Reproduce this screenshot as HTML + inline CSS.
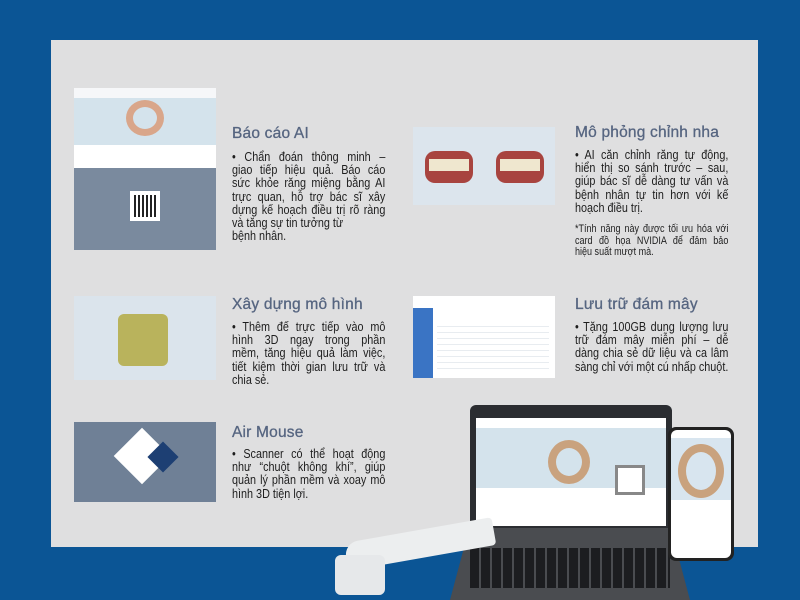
<!DOCTYPE html>
<html><head><meta charset="utf-8"><style>
*{margin:0;padding:0;box-sizing:border-box}
body{width:800px;height:600px;background:#0b5595;position:relative;overflow:hidden;font-family:"Liberation Sans",sans-serif}
.panel{position:absolute;left:51px;top:40px;width:707px;height:507px;background:#dfdfe0}
.img{position:absolute;background:#dde6ee;overflow:hidden}
h2{position:absolute;font-size:15.5px;font-weight:normal;color:#566580;letter-spacing:.2px;-webkit-text-stroke:.3px #566580}
.t{position:absolute;font-size:13.2px;line-height:13.2px;color:#1e1e1e;width:187px;transform:scaleX(0.82);transform-origin:0 0}
.t span{display:block;text-align:justify;text-align-last:justify;white-space:nowrap}
.t span.l{text-align-last:left}
.n{font-size:11px;line-height:11.5px;margin-top:10px}
.ab{position:absolute}
</style></head><body>
<div class="panel"></div>

<div class="img" style="left:74px;top:88px;width:142px;height:162px;background:#fff">
 <div class="ab" style="left:0;top:0;width:142px;height:10px;background:#f6f7f9"></div>
 <div class="ab" style="left:0;top:10px;width:142px;height:47px;background:#d4e3ec"></div>
 <div class="ab" style="left:52px;top:12px;width:38px;height:36px;border:7px solid #d9a68a;border-radius:50%"></div>
 <div class="ab" style="left:0;top:80px;width:142px;height:82px;background:#7a8a9e"></div>
 <div class="ab" style="left:56px;top:103px;width:30px;height:30px;background:#fff"></div>
 <div class="ab" style="left:60px;top:107px;width:22px;height:22px;background:repeating-linear-gradient(90deg,#222 0 2px,#fff 2px 4px)"></div>
</div>
<h2 style="left:232px;top:125px">Báo cáo AI</h2>
<div class="t" style="left:232px;top:150px"><span>• Chẩn đoán thông minh –</span><span>giao tiếp hiệu quả. Báo cáo</span><span>sức khỏe răng miệng bằng AI</span><span>trực quan, hỗ trợ bác sĩ xây</span><span>dựng kế hoạch điều trị rõ ràng</span><span class="l">và tăng sự tin tưởng từ</span><span class="l">bệnh nhân.</span></div>

<div class="img" style="left:413px;top:127px;width:142px;height:78px;background:#dce5ed">
 <div class="ab" style="left:12px;top:24px;width:48px;height:32px;background:#a8443f;border-radius:10px"></div>
 <div class="ab" style="left:16px;top:32px;width:40px;height:12px;background:#efe7cf"></div>
 <div class="ab" style="left:83px;top:24px;width:48px;height:32px;background:#a8443f;border-radius:10px"></div>
 <div class="ab" style="left:87px;top:32px;width:40px;height:12px;background:#efe7cf"></div>
</div>
<h2 style="left:575px;top:124px">Mô phỏng chỉnh nha</h2>
<div class="t" style="left:575px;top:148px"><span>• AI căn chỉnh răng tự động,</span><span>hiển thị so sánh trước – sau,</span><span>giúp bác sĩ dễ dàng tư vấn và</span><span>bệnh nhân tự tin hơn với kế</span><span class="l">hoạch điều trị.</span><div class="n"><span>*Tính năng này được tối ưu hóa với</span><span>card đồ họa NVIDIA để đảm bảo</span><span class="l">hiệu suất mượt mà.</span></div></div>

<div class="img" style="left:74px;top:296px;width:142px;height:84px;background:#dbe4ec">
 <div class="ab" style="left:44px;top:18px;width:50px;height:52px;background:#b9b35c;border-radius:6px"></div>
</div>
<h2 style="left:232px;top:296px">Xây dựng mô hình</h2>
<div class="t" style="left:232px;top:320px"><span>• Thêm đế trực tiếp vào mô</span><span>hình 3D ngay trong phần</span><span>mềm, tăng hiệu quả làm việc,</span><span>tiết kiệm thời gian lưu trữ và</span><span class="l">chia sẻ.</span></div>

<div class="img" style="left:413px;top:296px;width:142px;height:82px;background:#fff">
 <div class="ab" style="left:0;top:12px;width:20px;height:70px;background:#3a74c4"></div>
 <div class="ab" style="left:24px;top:30px;width:112px;height:48px;background:repeating-linear-gradient(180deg,#e8ecf0 0 1px,#fff 1px 6px)"></div>
</div>
<h2 style="left:575px;top:296px">Lưu trữ đám mây</h2>
<div class="t" style="left:575px;top:320px"><span>• Tặng 100GB dung lượng lưu</span><span>trữ đám mây miễn phí – dễ</span><span>dàng chia sẻ dữ liệu và ca lâm</span><span>sàng chỉ với một cú nhấp chuột.</span></div>

<div class="img" style="left:74px;top:422px;width:142px;height:80px;background:#6f8096">
 <div class="ab" style="left:48px;top:14px;width:40px;height:40px;background:#fff;transform:rotate(45deg)"></div>
 <div class="ab" style="left:78px;top:24px;width:22px;height:22px;background:#1d3f73;transform:rotate(45deg)"></div>
</div>
<h2 style="left:232px;top:424px">Air Mouse</h2>
<div class="t" style="left:232px;top:447px"><span>• Scanner có thể hoạt động</span><span>như “chuột không khí”, giúp</span><span>quản lý phần mềm và xoay mô</span><span class="l">hình 3D tiện lợi.</span></div>

<div class="ab" style="left:470px;top:405px;width:202px;height:130px;background:#2b2d31;border-radius:6px 6px 0 0"></div>
<div class="ab" style="left:476px;top:418px;width:190px;height:108px;background:#fff"></div>
<div class="ab" style="left:476px;top:428px;width:190px;height:60px;background:#d4e3ec"></div>
<div class="ab" style="left:548px;top:440px;width:42px;height:44px;border:8px solid #c9a27e;border-radius:50%"></div>
<div class="ab" style="left:615px;top:465px;width:30px;height:30px;background:#fff;border:3px solid #888"></div>
<div class="ab" style="left:450px;top:528px;width:240px;height:72px;background:#4a4c50;clip-path:polygon(8% 0,92% 0,100% 100%,0 100%)"></div>
<div class="ab" style="left:470px;top:548px;width:200px;height:40px;background:repeating-linear-gradient(90deg,#1c1d20 0 9px,#4a4c50 9px 11px)"></div>
<div class="ab" style="left:668px;top:427px;width:66px;height:134px;background:#222;border-radius:8px"></div>
<div class="ab" style="left:671px;top:430px;width:60px;height:128px;background:#fff;border-radius:6px"></div>
<div class="ab" style="left:671px;top:438px;width:60px;height:62px;background:#d8e5ef"></div>
<div class="ab" style="left:678px;top:444px;width:46px;height:54px;border:8px solid #c9a27e;border-radius:50%"></div>
<div class="ab" style="left:345px;top:530px;width:150px;height:28px;background:#eceeef;border-radius:14px 4px 4px 14px;transform:rotate(-10deg)"></div>
<div class="ab" style="left:335px;top:555px;width:50px;height:40px;background:#e6e8ea;border-radius:6px"></div>
</body></html>
